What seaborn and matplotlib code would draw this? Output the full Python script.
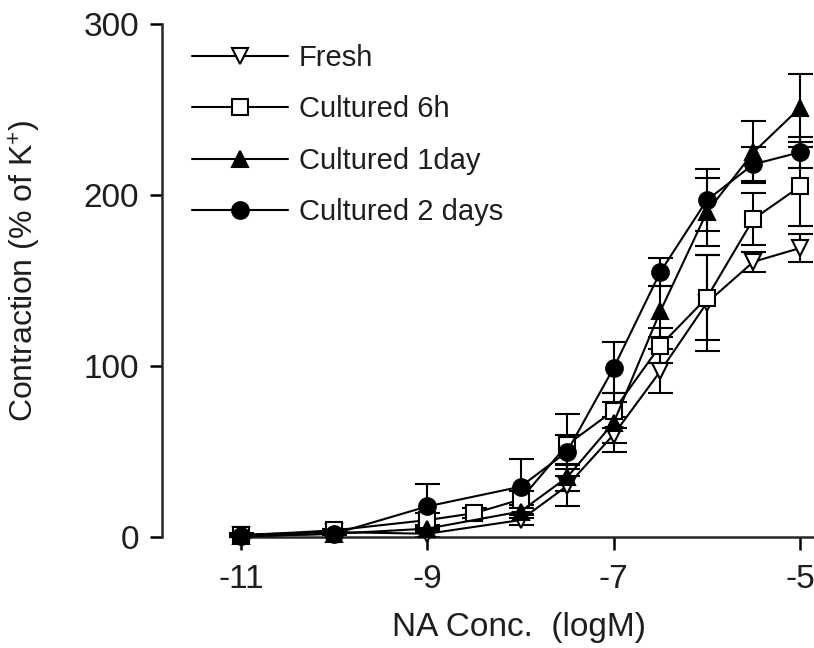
import numpy as np
import pandas as pd
import seaborn as sns
import matplotlib.pyplot as plt

# log concentrations
conc = [-11, -10, -9, -8, -7.5, -7, -6.5, -6, -5.5, -5]
conc_6h = [-11, -10, -9, -8.5, -8, -7.5, -7, -6.5, -6, -5.5, -5]

fresh = [1.5, 3, 2, 10, 30, 60, 97, 137, 161, 169]
fresh_err = [1, 1, 2, 3, 12, 10, 13, 28, 6, 8]

cult_6h = [1, 4, 10, 14, 22, 54, 74, 112, 140, 186, 205]
cult_6h_err = [1, 1, 4, 3, 5, 18, 10, 10, 25, 15, 23]

cult_1d = [0.5, 2, 5, 15, 35, 67, 132, 190, 225, 251]
cult_1d_err = [0.5, 1, 2, 4, 8, 12, 15, 20, 18, 20]

cult_2d = [0.5, 2, 18, 29.5, 50, 99, 155, 197, 218, 225]
cult_2d_err = [0.5, 1, 13, 16, 10, 15, 8, 18, 10, 9]

labels = ["Fresh", "Cultured 6h", "Cultured 1day", "Cultured 2 days"]

series = [
    (conc, fresh, fresh_err, "v", "white"),
    (conc_6h, cult_6h, cult_6h_err, "s", "white"),
    (conc, cult_1d, cult_1d_err, "^", "black"),
    (conc, cult_2d, cult_2d_err, "o", "black"),
]

sns.set_style("ticks")
plt.rcParams['font.family'] = ['Liberation Sans', 'DejaVu Sans']
plt.rcParams['mathtext.default'] = 'regular'
txt = "#1e1e1e"

fig = plt.figure(figsize=(8.14, 6.48), dpi=100)
ax = fig.add_axes([0.2457, 0.171, 0.7543, 0.792])

for (x, y, e, m, fc), lab in zip(series, labels):
    df = pd.DataFrame({"x": x, "y": y})
    ax.errorbar(x, y, yerr=e, fmt="none", ecolor="black", elinewidth=1.5,
                capsize=9, capthick=1.5, clip_on=False, zorder=2)
    sns.lineplot(data=df, x="x", y="y", ax=ax, color="black", linewidth=1.5,
                 marker=m, markersize=12, markerfacecolor=fc,
                 markeredgecolor="black", markeredgewidth=1.5,
                 label=lab, clip_on=False, zorder=3)

ax.set_xlim(-11.44, -4.85)
ax.set_ylim(0, 300)
ax.set_xticks([-11, -9, -7, -5])
ax.set_xticklabels(["-11", "-9", "-7", "-5"])
ax.set_yticks([0, 100, 200, 300])
sns.despine(ax=ax)
ax.spines["left"].set_position(("outward", 27))
ax.spines["left"].set_linewidth(1.8)
ax.spines["bottom"].set_linewidth(1.8)
ax.spines["bottom"].set_bounds(-11, -4.85)
ax.tick_params(axis="both", width=1.8, length=9, labelsize=24,
               color="black", labelcolor=txt)
ax.tick_params(axis="x", pad=10)
ax.tick_params(axis="y", pad=8)

ax.set_xlabel("NA Conc.  (logM)", fontsize=24, color=txt)
ax.set_ylabel("Contraction (% of K$^{+}$)", fontsize=23, color=txt)
ax.xaxis.set_label_coords(0.52, -0.145)
ax.yaxis.set_label_coords(-0.255, 0.52)

leg = ax.legend(loc="upper left", bbox_to_anchor=(0.236, 0.932),
                bbox_transform=fig.transFigure, borderaxespad=0, borderpad=0,
                frameon=False, fontsize=21, handlelength=3.3,
                handletextpad=0.36, labelspacing=0.8)
for t in leg.get_texts():
    t.set_color(txt)

fig.savefig("out.png", dpi=100)
